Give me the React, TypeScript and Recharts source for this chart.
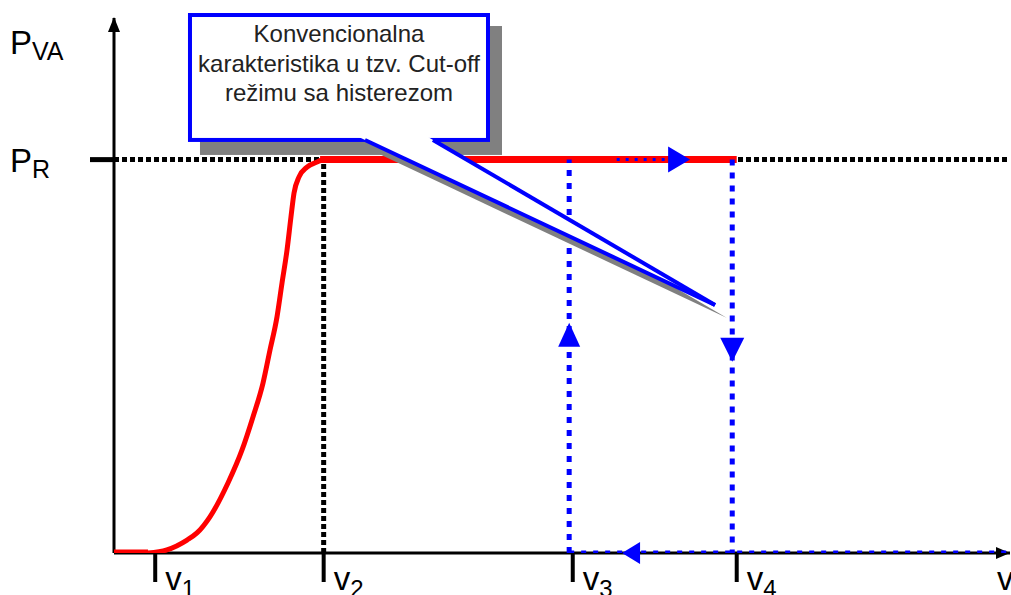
import React from "react";
import {
  ComposedChart,
  XAxis,
  YAxis,
  Line,
  Area,
  ReferenceLine,
  ReferenceDot,
  ReferenceArea,
} from "recharts";

const FONT = '"Liberation Sans", Arial, sans-serif';
const RED = "#ff0000";
const BLUE = "#0000ff";
const GREY = "#808080";

// axes (x: wind speed, y: power relative to P_R)
const X_DOMAIN = [0, 100];
const Y_DOMAIN = [0, 1.36];
const X_TICKS = [4.6, 23.4, 51.2, 69.5];
const X_TICK_SUBS = ["1", "2", "3", "4"];
const P_R = 1;
const Y_TICKS = [P_R];

// red characteristic
const startFlat = [
  { x: 0, y: 0 },
  { x: 3.8, y: 0 },
];
const ramp = [
  { x: 3.8, y: 0 },
  { x: 5.9, y: 0.008 },
  { x: 8.15, y: 0.033 },
  { x: 9.26, y: 0.051 },
  { x: 10.71, y: 0.092 },
  { x: 12.72, y: 0.178 },
  { x: 14.29, y: 0.262 },
  { x: 15.51, y: 0.346 },
  { x: 16.63, y: 0.432 },
  { x: 17.41, y: 0.516 },
  { x: 18.19, y: 0.6 },
  { x: 18.75, y: 0.686 },
  { x: 19.31, y: 0.77 },
  { x: 19.75, y: 0.854 },
  { x: 20.09, y: 0.915 },
  { x: 20.65, y: 0.956 },
  { x: 21.54, y: 0.981 },
  { x: 22.66, y: 0.994 },
  { x: 23.3, y: 1 },
];
const rated = [
  { x: 23.0, y: 1 },
  { x: 69.5, y: 1 },
];

// blue hysteresis loop
const upV3 = [
  { x: 50.8, y: 0 },
  { x: 50.8, y: 1 },
];
const downV4 = [
  { x: 69.0, y: 1 },
  { x: 69.0, y: 0 },
];
const backAlongAxis = [
  { x: 50.8, y: 0 },
  { x: 100, y: 0 },
];
const topDots = [
  { x: 56.1, y: 1 },
  { x: 61.8, y: 1 },
];

// callout
const CALLOUT_LINES = [
  "Konvencionalna",
  "karakteristika u tzv. Cut-off",
  "režimu sa histerezom",
];
const pointerFill = [
  { x: 27.08, r: [1.06, 1.06] },
  { x: 34.85, r: [0.9765, 1.06] },
  { x: 67.08, r: [0.6304, 0.6304] },
];
const pointerShadow = [
  { x: 28.42, r: [1.027, 1.027] },
  { x: 36.19, r: [0.9435, 1.027] },
  { x: 68.42, r: [0.5974, 0.5974] },
];
const pointerEdgeA = [
  { x: 28.01, y: 1.05 },
  { x: 67.08, y: 0.6304 },
];
const pointerEdgeB = [
  { x: 35.6, y: 1.05 },
  { x: 67.08, y: 0.6304 },
];

function XTick(props: any) {
  const { x, y, payload } = props;
  const i = X_TICKS.indexOf(payload.value);
  return (
    <g>
      <line x1={x} x2={x} y1={y} y2={y + 29} stroke="#000" strokeWidth={4} />
      <text x={x + 10} y={y + 37} fontFamily={FONT} fontSize={33} fill="#000">
        v
        <tspan fontSize={24} dy={7}>
          {X_TICK_SUBS[i]}
        </tspan>
      </text>
    </g>
  );
}

function YTick(props: any) {
  const { x, y } = props;
  return (
    <g>
      <line x1={x - 24} x2={x} y1={y} y2={y} stroke="#000" strokeWidth={5} />
      <text x={x - 104} y={y + 12} fontFamily={FONT} fontSize={33} fill="#000">
        P
        <tspan fontSize={25} dy={6}>
          R
        </tspan>
      </text>
    </g>
  );
}

function YTitle(props: any) {
  const vb = props.viewBox || { x: 0, y: 18 };
  return (
    <text x={vb.x + 10} y={vb.y + 36} fontFamily={FONT} fontSize={33} fill="#000">
      P
      <tspan fontSize={25} dy={6}>
        VA
      </tspan>
    </text>
  );
}

function XTitle(props: any) {
  const vb = props.viewBox || { x: 114, y: 553, width: 896 };
  return (
    <text x={vb.x + vb.width - 13} y={vb.y + 37} fontFamily={FONT} fontSize={33} fill="#000">
      v
    </text>
  );
}

function CalloutBox(props: any) {
  const { x, y, width, height } = props;
  return (
    <g>
      <rect x={x + 10} y={y + 11} width={width + 4} height={height + 4} fill={GREY} />
      <rect x={x} y={y} width={width} height={height} fill="#fff" stroke={BLUE} strokeWidth={4} />
      {CALLOUT_LINES.map((t, i) => (
        <text
          key={i}
          x={x + width / 2}
          y={y + 27 + i * 29.5}
          textAnchor="middle"
          fontFamily={FONT}
          fontSize={24}
          fill="#222"
        >
          {t}
        </text>
      ))}
    </g>
  );
}

const arrow = (kind: string, color: string) => (p: any) => {
  const { cx, cy } = p;
  let pts = "";
  if (kind === "up-axis") pts = `${cx},${cy - 1} ${cx - 6},${cy + 14} ${cx + 6},${cy + 14}`;
  if (kind === "right-axis") pts = `${cx},${cy} ${cx - 14},${cy - 6} ${cx - 14},${cy + 6}`;
  if (kind === "right") pts = `${cx},${cy} ${cx - 22},${cy - 13} ${cx - 22},${cy + 13}`;
  if (kind === "left") pts = `${cx},${cy} ${cx + 18},${cy - 11} ${cx + 18},${cy + 11}`;
  if (kind === "up") pts = `${cx},${cy} ${cx - 11},${cy + 24} ${cx + 11},${cy + 24}`;
  if (kind === "down") pts = `${cx},${cy} ${cx - 12},${cy - 24} ${cx + 12},${cy - 24}`;
  return <polygon points={pts} fill={color} />;
};

const lineProps = {
  dataKey: "y",
  dot: false,
  activeDot: false,
  isAnimationActive: false,
  legendType: "none" as const,
};

export default function App() {
  return (
    <div style={{ position: "absolute", left: 0, top: 0, background: "#fff" }}>
      <ComposedChart width={1011} height={595} margin={{ top: 18, right: 1, bottom: 0, left: 0 }}>
        <XAxis
          type="number"
          dataKey="x"
          domain={X_DOMAIN}
          ticks={X_TICKS}
          interval={0}
          height={42}
          tickSize={0}
          tickMargin={0}
          tickLine={false}
          axisLine={{ stroke: "#000", strokeWidth: 3 }}
          tick={<XTick />}
          label={{ content: <XTitle /> }}
          allowDataOverflow
        />
        <YAxis
          type="number"
          domain={Y_DOMAIN}
          ticks={Y_TICKS}
          width={114}
          tickSize={0}
          tickMargin={0}
          tickLine={false}
          axisLine={{ stroke: "#000", strokeWidth: 3 }}
          tick={<YTick />}
          label={{ content: <YTitle /> }}
          allowDataOverflow
        />
        <ReferenceDot x={0} y={1.36} r={0} ifOverflow="visible" shape={arrow("up-axis", "#000")} zIndex={510} />
        <ReferenceDot x={100} y={0} r={0} ifOverflow="visible" shape={arrow("right-axis", "#000")} zIndex={510} />

        <ReferenceLine y={P_R} stroke="#000" strokeWidth={5} strokeDasharray="5 3" zIndex={520} />
        <ReferenceLine
          segment={[
            { x: X_TICKS[1], y: 0 },
            { x: X_TICKS[1], y: P_R },
          ]}
          stroke="#000"
          strokeWidth={5}
          strokeDasharray="5 3"
          zIndex={521}
        />

        <Line {...lineProps} data={startFlat} type="linear" stroke={RED} strokeWidth={7} zIndex={600} />
        <Line {...lineProps} data={ramp} type="monotone" stroke={RED} strokeWidth={5} zIndex={601} />
        <Line {...lineProps} data={rated} type="linear" stroke={RED} strokeWidth={7} zIndex={602} />

        <Line {...lineProps} data={upV3} type="linear" stroke={BLUE} strokeWidth={5} strokeDasharray="6 7" zIndex={650} />
        <Line {...lineProps} data={downV4} type="linear" stroke={BLUE} strokeWidth={5} strokeDasharray="6 7" zIndex={651} />
        <Line {...lineProps} data={backAlongAxis} type="linear" stroke={BLUE} strokeWidth={5} strokeDasharray="5 7" zIndex={652} />
        <Line {...lineProps} data={topDots} type="linear" stroke={BLUE} strokeWidth={3} strokeDasharray="3 6" zIndex={653} />

        <ReferenceDot x={64.3} y={1} r={0} ifOverflow="visible" shape={arrow("right", BLUE)} zIndex={700} />
        <ReferenceDot x={56.7} y={0} r={0} ifOverflow="visible" shape={arrow("left", BLUE)} zIndex={701} />
        <ReferenceDot x={50.8} y={0.585} r={0} ifOverflow="visible" shape={arrow("up", BLUE)} zIndex={702} />
        <ReferenceDot x={69.0} y={0.486} r={0} ifOverflow="visible" shape={arrow("down", BLUE)} zIndex={703} />

        <Area
          data={pointerShadow}
          dataKey="r"
          type="linear"
          fill={GREY}
          fillOpacity={1}
          stroke="none"
          isAnimationActive={false}
          activeDot={false}
          zIndex={800}
        />
        <ReferenceArea
          x1={8.48}
          x2={41.74}
          y1={1.05}
          y2={1.3676}
          ifOverflow="visible"
          shape={CalloutBox}
          zIndex={810}
        />
        <Area
          data={pointerFill}
          dataKey="r"
          type="linear"
          fill="#fff"
          fillOpacity={1}
          stroke="none"
          isAnimationActive={false}
          activeDot={false}
          zIndex={820}
        />
        <Line {...lineProps} data={pointerEdgeA} type="linear" stroke={BLUE} strokeWidth={4} zIndex={830} />
        <Line {...lineProps} data={pointerEdgeB} type="linear" stroke={BLUE} strokeWidth={4} zIndex={831} />
      </ComposedChart>
    </div>
  );
}
